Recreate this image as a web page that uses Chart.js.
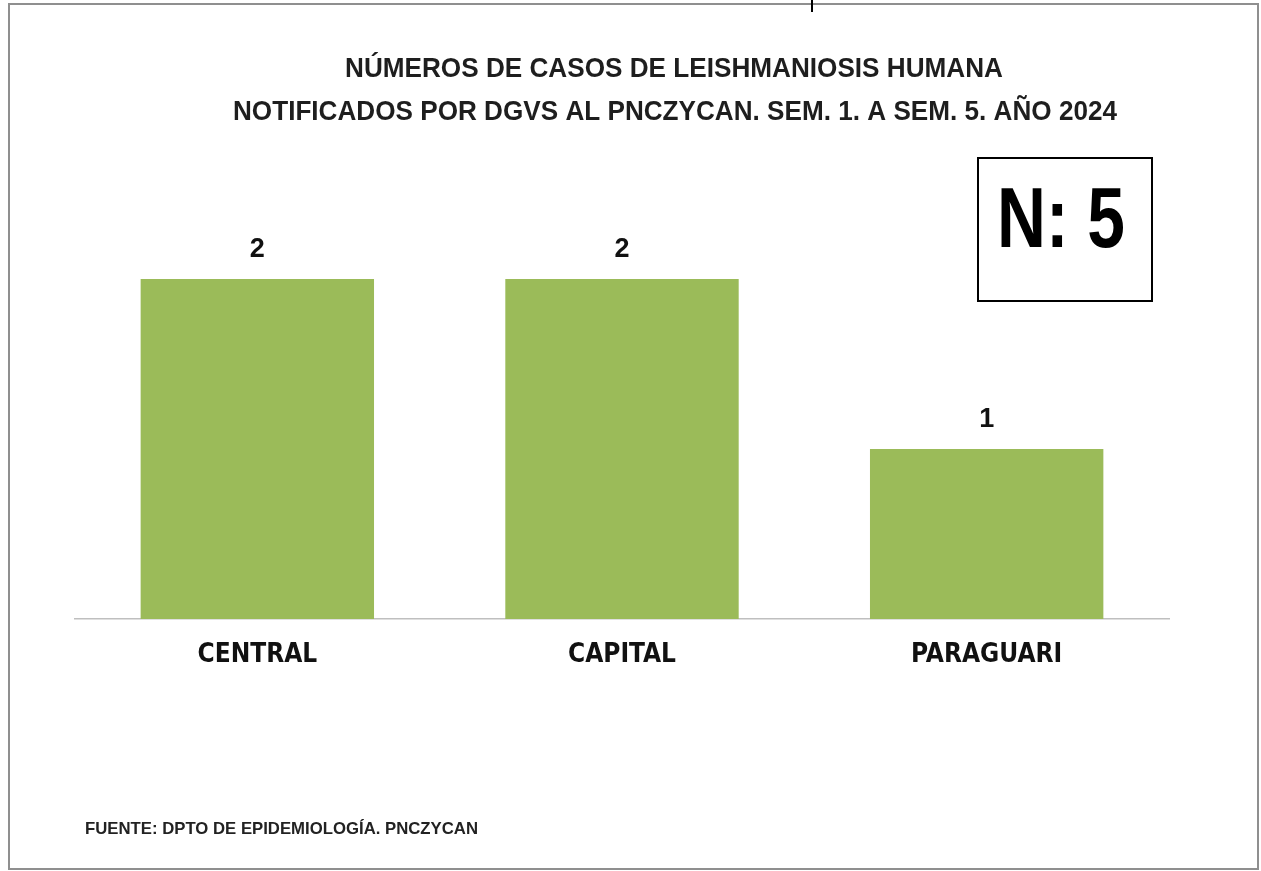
<!DOCTYPE html>
<html>
<head>
<meta charset="utf-8">
<script src="https://cdn.jsdelivr.net/npm/chart.js@4.4.1/dist/chart.umd.min.js"></script>
<style>
  body { margin: 0; background: #fff; }
  #wrap { width: 1261px; height: 871px; }
</style>
</head>
<body>
<div id="wrap"><canvas id="barchart" width="1261" height="871"></canvas></div>
<script>
// datos
const categorias = ["CENTRAL", "CAPITAL", "PARAGUARI"];
const casos = [2, 2, 1];
const titulo = ["NÚMEROS DE CASOS DE LEISHMANIOSIS HUMANA", "NOTIFICADOS POR DGVS AL PNCZYCAN. SEM. 1. A SEM. 5. AÑO 2024"];
const totalTexto = "N: 5";
const fuente = "FUENTE: DPTO DE EPIDEMIOLOGÍA. PNCZYCAN";

const SANS = "'Liberation Sans', Arial, sans-serif";
const COND = "'DejaVu Sans Condensed', 'Liberation Sans', sans-serif";

// marco, titulo, recuadro N, fuente y etiquetas de valores
const extras = {
    id: "extras",
    beforeDraw(chart) {
        const ctx = chart.ctx;
        ctx.save();
        ctx.fillStyle = "#fff";
        ctx.fillRect(0, 0, chart.width, chart.height);
        ctx.strokeStyle = "#8f8f8f";
        ctx.lineWidth = 2;
        ctx.strokeRect(9, 4, 1249, 865);
        ctx.strokeStyle = "#000";
        ctx.beginPath();
        ctx.moveTo(812, 0);
        ctx.lineTo(812, 12);
        ctx.stroke();
        ctx.restore();
    },
    afterDraw(chart) {
        const ctx = chart.ctx;
        ctx.save();
        // titulo (comprimido como en el original)
        ctx.fillStyle = "#1e1e1e";
        ctx.font = "bold 28px " + SANS;
        ctx.textAlign = "center";
        ctx.textBaseline = "middle";
        ctx.fillText(titulo[0], 674, 69, 658);
        ctx.fillText(titulo[1], 675, 112, 884);
        // recuadro N
        ctx.strokeStyle = "#000";
        ctx.lineWidth = 2;
        ctx.strokeRect(978, 158, 174, 143);
        ctx.fillStyle = "#000";
        ctx.font = "bold 85px " + SANS;
        ctx.fillText(totalTexto, 1061, 224, 128);
        // fuente
        ctx.font = "bold 17px " + SANS;
        ctx.textAlign = "left";
        ctx.fillStyle = "#222";
        ctx.fillText(fuente, 85, 829, 393);
        // valores sobre las barras
        ctx.font = "bold 27px " + SANS;
        ctx.textAlign = "center";
        ctx.fillStyle = "#111";
        chart.getDatasetMeta(0).data.forEach((bar, i) => {
            ctx.fillText(casos[i], bar.x, bar.y - 29);
        });
        ctx.restore();
    }
};

const ctx = document.getElementById("barchart").getContext("2d");
new Chart(ctx, {
    type: "bar",
    data: {
        labels: categorias,
        datasets: [{
            data: casos,
            backgroundColor: "#9bbb59",
            borderWidth: 0,
            barPercentage: 0.64,
            categoryPercentage: 1
        }]
    },
    options: {
        responsive: false,
        animation: false,
        layout: { padding: { left: 75, right: 92, top: 194, bottom: 162 } },
        plugins: {
            legend: { display: false },
            tooltip: { enabled: false },
            title: { display: false }
        },
        scales: {
            x: {
                grid: { display: false, drawTicks: false },
                border: { display: true, color: "#bfbfbf", width: 1.5 },
                ticks: {
                    color: "#111",
                    padding: 21,
                    font: { family: COND, size: 26, weight: "bold" }
                },
                afterFit: axis => { axis.height = 90; }
            },
            y: { display: false, min: 0, max: 2.5 }
        }
    },
    plugins: [extras]
});
</script>
</body>
</html>
